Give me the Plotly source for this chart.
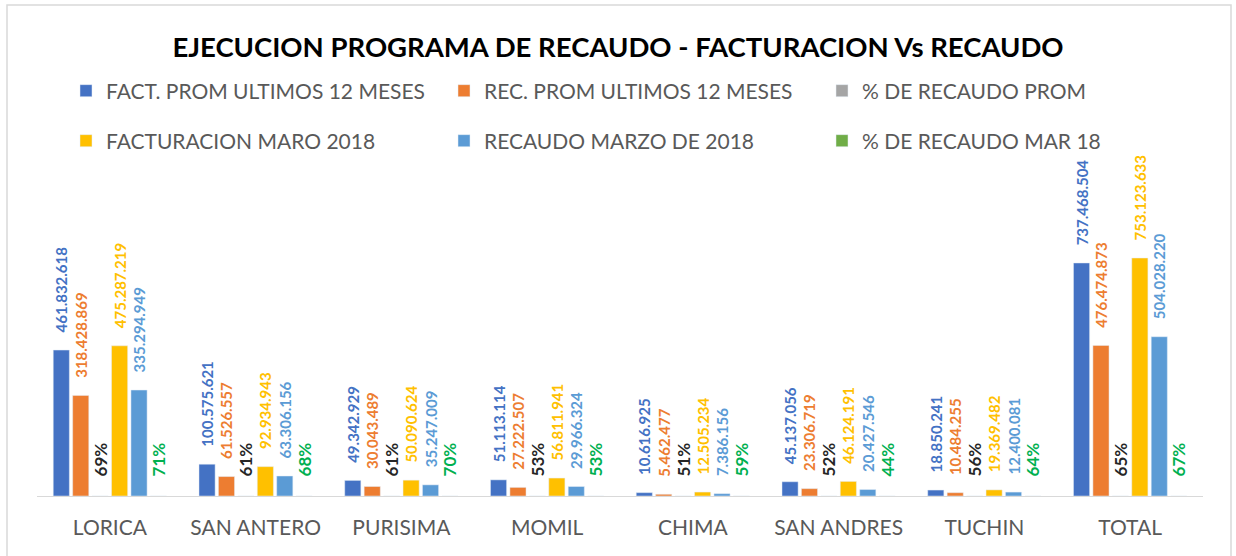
import plotly.graph_objects as go

categories = ["LORICA", "SAN ANTERO", "PURISIMA", "MOMIL", "CHIMA", "SAN ANDRES", "TUCHIN", "TOTAL"]
fact_prom = [461832618, 100575621, 49342929, 51113114, 10616925, 45137056, 18850241, 737468504]
rec_prom = [318428869, 61526557, 30043489, 27222507, 5462477, 23306719, 10484255, 476474873]
pct_prom = [0.69, 0.61, 0.61, 0.53, 0.51, 0.52, 0.56, 0.65]
fact_mar = [475287219, 92934943, 50090624, 56811941, 12505234, 46124191, 19369482, 753123633]
rec_mar = [335294949, 63306156, 35247009, 29966324, 7386156, 20427546, 12400081, 504028220]
pct_mar = [0.71, 0.68, 0.70, 0.53, 0.59, 0.44, 0.64, 0.67]

series = [
    ("FACT. PROM ULTIMOS 12 MESES", fact_prom, "#4472C4", "#4472C4", "num", "legend"),
    ("REC. PROM ULTIMOS 12 MESES", rec_prom, "#ED7D31", "#ED7D31", "num", "legend"),
    ("% DE RECAUDO PROM", pct_prom, "#A5A5A5", "#262626", "pct", "legend"),
    ("FACTURACION MARO 2018", fact_mar, "#FFC000", "#FFC000", "num", "legend2"),
    ("RECAUDO MARZO DE 2018", rec_mar, "#5B9BD5", "#5B9BD5", "num", "legend2"),
    ("% DE RECAUDO MAR 18", pct_mar, "#70AD47", "#00B050", "pct", "legend2"),
]

FONT = "Lato"
PAD = "\u00a0" * 4

fig = go.Figure()
for name, vals, color, lcolor, kind, lg in series:
    if kind == "num":
        tt = PAD + "%{y:,.0f}"
        tf = dict(family=FONT, size=15, color=lcolor, weight="bold")
    else:
        tt = PAD + "%{y:.0%}"
        tf = dict(family=FONT, size=17, color=lcolor, weight="bold")
    fig.add_trace(go.Bar(
        name=name, x=categories, y=vals, marker_color=color,
        texttemplate=tt, textposition="outside", textangle=-90,
        textfont=tf, cliponaxis=False, constraintext="none",
        legend=lg,
    ))

L, R, T, B = 37, 33, 160, 60
W, H = 1236, 556
pw, ph = W - L - R, H - T - B

def px2x(p):
    return (p - L) / pw

def py2y(p):
    return (H - B - p) / ph

fig.update_layout(
    width=W, height=H,
    margin=dict(l=L, r=R, t=T, b=B),
    paper_bgcolor="white", plot_bgcolor="white",
    separators=",.",
    barmode="group", bargap=0.2, bargroupgap=0.17,
    title=dict(text="<b>EJECUCION PROGRAMA DE RECAUDO - FACTURACION Vs RECAUDO</b>",
               x=0.5, xanchor="center", y=1 - 47 / H, yanchor="middle",
               font=dict(family=FONT, size=27.5, color="#000000")),
    legend=dict(orientation="h", x=px2x(66), y=py2y(91), xanchor="left", yanchor="middle",
                entrywidth=333, entrywidthmode="pixels",
                font=dict(family=FONT, size=21, color="#595959"), bgcolor="rgba(0,0,0,0)"),
    legend2=dict(orientation="h", x=px2x(66), y=py2y(141), xanchor="left", yanchor="middle",
                 entrywidth=333, entrywidthmode="pixels",
                 font=dict(family=FONT, size=21, color="#595959"), bgcolor="rgba(0,0,0,0)"),
    xaxis=dict(showline=True, linecolor="#D9D9D9", linewidth=1, ticks="",
               tickfont=dict(family=FONT, size=21, color="#595959"),
               ticklabelstandoff=13, showgrid=False),
    yaxis=dict(visible=False, range=[0, ph / 0.316e-6], showgrid=False),
    showlegend=True,
)

fig.add_shape(type="rect", xref="paper", yref="paper",
              x0=px2x(7), x1=px2x(1231), y0=py2y(565), y1=py2y(5),
              line=dict(color="#D9D9D9", width=1.5), fillcolor="rgba(0,0,0,0)", layer="below")

fig.write_html("out.html", config={"displayModeBar": False},
               post_script="document.body.style.margin='0px';")
